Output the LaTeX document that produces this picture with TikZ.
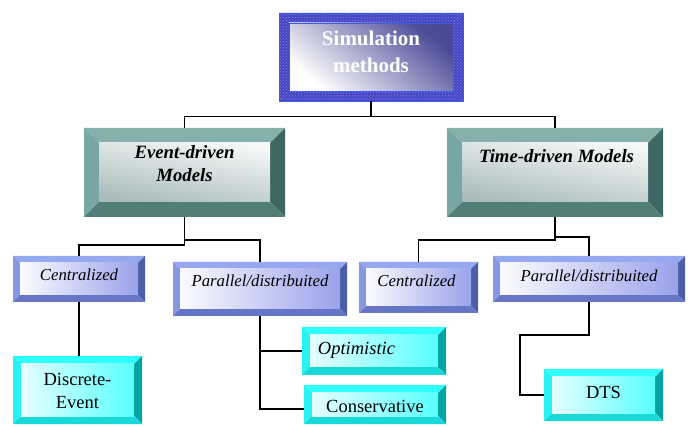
\documentclass[tikz,border=0pt]{standalone}
\usepackage{fontspec}
\setmainfont{Liberation Serif}
\usetikzlibrary{patterns}

% frame and fill colours
\definecolor{simblue}{HTML}{4646C4}
\definecolor{simdot}{HTML}{8080EC}
\definecolor{simedge}{HTML}{3A5CF5}
\definecolor{simdark}{HTML}{4A4A98}
\definecolor{tealtop}{HTML}{86B0AC}
\definecolor{tealleft}{HTML}{78A6A2}
\definecolor{tealright}{HTML}{3E6662}
\definecolor{tealbot}{HTML}{527E7A}
\definecolor{tealin}{HTML}{A8BCBB}
\definecolor{bluetop}{HTML}{96A8F0}
\definecolor{blueleft}{HTML}{8697E6}
\definecolor{blueright}{HTML}{4C5EA8}
\definecolor{bluebot}{HTML}{6676C6}
\definecolor{bluein}{HTML}{9AA2EA}
\definecolor{cyantop}{HTML}{30FFFF}
\definecolor{cyanleft}{HTML}{28F2F2}
\definecolor{cyanright}{HTML}{00A2A2}
\definecolor{cyanbot}{HTML}{18D8D8}
\definecolor{cyanin}{HTML}{58FFFF}

% bevelled frame: #1 bevel width, #2-#5 top/left/right/bottom face styles, #6 inner panel style
\newcommand\bevelfaces[6]{%
  \coordinate (bNW) at (path picture bounding box.north west);
  \coordinate (bNE) at (path picture bounding box.north east);
  \coordinate (bSW) at (path picture bounding box.south west);
  \coordinate (bSE) at (path picture bounding box.south east);
  \coordinate (iNW) at ([xshift=#1pt,yshift=-#1pt]bNW);
  \coordinate (iNE) at ([xshift=-#1pt,yshift=-#1pt]bNE);
  \coordinate (iSW) at ([xshift=#1pt,yshift=#1pt]bSW);
  \coordinate (iSE) at ([xshift=-#1pt,yshift=#1pt]bSE);
  \fill[#2] (bNW) -- (bNE) -- (iNE) -- (iNW) -- cycle;
  \fill[#3] (bNW) -- (iNW) -- (iSW) -- (bSW) -- cycle;
  \fill[#4] (bNE) -- (bSE) -- (iSE) -- (iNE) -- cycle;
  \fill[#5] (bSW) -- (iSW) -- (iSE) -- (bSE) -- cycle;
  \shade[#6] (iNW) rectangle (iSE);
}

% text placed with its (last) baseline at the node centre, moved by #1 right and #2 up
\newcommand\tx[3]{\makebox[0pt][l]{\hspace*{#1}\raisebox{#2}[0pt][0pt]{\makebox[0pt]{#3}}}}

\tikzset{
  bevel/.style n args={6}{path picture={\bevelfaces{#1}{#2}{#3}{#4}{#5}{#6}}},
  simface/.style={fill=simblue, postaction={pattern=crosshatch dots, pattern color=simdot}},
  simbox/.style={inner sep=0pt, draw=simedge, line width=0.8pt, text=white,
    font=\fontsize{21}{27}\selectfont\bfseries,
    bevel={10}{simface}{simface}{simface}{simface}%
      {draw=simedge, line width=0.8pt, top color=simdark, bottom color=white, shading angle=-40}},
  tealbox/.style={inner sep=0pt, font=\fontsize{18.75}{23}\selectfont\bfseries\itshape,
    bevel={15}{fill=tealtop}{fill=tealleft}{fill=tealright}{fill=tealbot}%
      {top color=white!90!tealin, middle color=white, bottom color=tealin, shading angle=-10}},
  bluebox/.style={inner sep=0pt, font=\fontsize{16.75}{20}\selectfont\itshape,
    bevel={7}{fill=bluetop}{fill=blueleft}{fill=blueright}{fill=bluebot}%
      {left color=white!96!bluein, right color=bluein}},
  cyanbox/.style={inner sep=0pt, font=\fontsize{18.5}{22}\selectfont,
    bevel={8}{fill=cyantop}{fill=cyanleft}{fill=cyanright}{fill=cyanbot}%
      {left color=white!85!cyanin, right color=cyanin}},
  wire/.style={draw=black, line width=1.6pt, line join=miter}
}

\begin{document}
\begin{tikzpicture}[x=1pt, y=1pt]
  \fill[white] (0,0) rectangle (688,-427);
  \useasboundingbox (0,0) rectangle (688,-427);

  % root
  \node[simbox, minimum width=184pt, minimum height=88pt] (sim) at (371,-57)
    {\tx{0pt}{-16pt}{\parbox[b]{180pt}{\centering Simulation\\methods}}};

  % model families
  \node[tealbox, minimum width=201pt, minimum height=89pt] (ev) at (184.5,-172.5)
    {\tx{0pt}{-9.5pt}{\parbox[b]{190pt}{\centering Event-driven\\Models}}};
  \node[tealbox, minimum width=216pt, minimum height=89pt] (tm) at (555,-172.5)
    {\tx{1.5pt}{9.5pt}{Time-driven Models}};

  % execution styles
  \node[bluebox, minimum width=132pt, minimum height=46pt] (cL) at (79,-279)
    {\tx{0pt}{-2pt}{Centralized}};
  \node[bluebox, minimum width=174pt, minimum height=54pt] (pL) at (260,-289)
    {\tx{0pt}{2pt}{Parallel/distribuited}};
  \node[bluebox, minimum width=119pt, minimum height=51pt] (cR) at (418.5,-287.5)
    {\tx{-2pt}{0.5pt}{Centralized}};
  \node[bluebox, minimum width=192pt, minimum height=46pt] (pR) at (589,-279)
    {\tx{0pt}{-3pt}{Parallel/distribuited}};

  % leaf techniques
  \node[cyanbox, minimum width=129pt, minimum height=68pt] (dE) at (77.5,-390)
    {\tx{0pt}{-18pt}{\parbox[b]{120pt}{\centering Discrete-\\Event}}};
  \node[cyanbox, minimum width=144pt, minimum height=48pt] (opt) at (374,-351)
    {\tx{-17.5pt}{-4pt}{\itshape Optimistic}};
  \node[cyanbox, minimum width=142pt, minimum height=39pt] (cons) at (375,-404.5)
    {\tx{0pt}{-8.5pt}{Conservative}};
  \node[cyanbox, minimum width=119pt, minimum height=52pt] (dts) at (603.5,-395)
    {\tx{0pt}{-4pt}{DTS}};

  % connectors
  \coordinate (topj) at ([yshift=-15pt]sim.south);
  \draw[wire] (sim.south) -- (topj);
  \draw[wire] (ev.north) |- (topj) -| (tm.north);

  \draw[wire] (ev.south) -- ([yshift=-28pt]ev.south) -| (cL.north);
  \draw[wire] ([yshift=-23pt]ev.south) -| (pL.north);

  \draw[wire] (tm.south) -- ([yshift=-23pt]tm.south) -| (cR.north);
  \draw[wire] ([yshift=-20pt]tm.south) -| (pR.north);

  \draw[wire] (cL.south) -- (cL.south |- dE.north);

  \draw[wire] (pL.south) |- (opt.west);
  \draw[wire] (pL.south) |- ([yshift=-4.5pt]cons.west);

  \coordinate (dtsbend) at ([xshift=-24pt]dts.west);
  \draw[wire] (pR.south) -- ([yshift=-33pt]pR.south) -| (dtsbend) -- (dts.west);
\end{tikzpicture}
\end{document}
